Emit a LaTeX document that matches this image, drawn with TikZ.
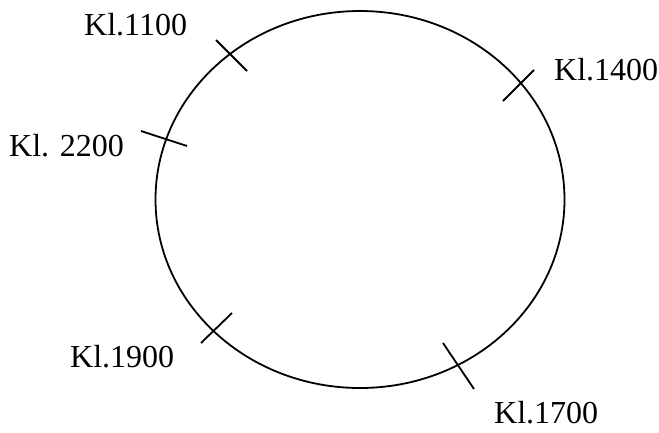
\documentclass[tikz,border=0pt]{standalone}
\usepackage{fontspec}
\setmainfont{Liberation Serif}
\begin{document}
\begin{tikzpicture}[x=1pt,y=-1pt,
  ring/.style={draw=black,line width=1.8pt},
  tick/.style={draw=black,line width=1.8pt},
  lbl/.style={anchor=base west,inner sep=0pt,font=\fontsize{32}{32}\selectfont}]
\useasboundingbox (0,0) rectangle (659,432);
\draw[ring] (360,199.5) ellipse [x radius=204.5, y radius=188.5];
% ticks
\coordinate (a1) at (216,40);  \coordinate (a2) at (247,71);
\coordinate (b1) at (141,131); \coordinate (b2) at (187,146);
\coordinate (c1) at (503,101); \coordinate (c2) at (534,70);
\coordinate (d1) at (201,343); \coordinate (d2) at (232,313);
\coordinate (e1) at (443,343); \coordinate (e2) at (474,389);
\draw[tick] (a1) -- (a2);
\draw[tick] (b1) -- (b2);
\draw[tick] (c1) -- (c2);
\draw[tick] (d1) -- (d2);
\draw[tick] (e1) -- (e2);
% labels
\node[lbl] (l1100) at (84,35) {Kl.1100};
\node[lbl] (l2200) at (9,156) {Kl. 2200};
\node[lbl] (l1400) at (554,80) {Kl.1400};
\node[lbl] (l1900) at (70,367) {Kl.1900};
\node[lbl] (l1700) at (494,423) {Kl.1700};
\end{tikzpicture}
\end{document}
